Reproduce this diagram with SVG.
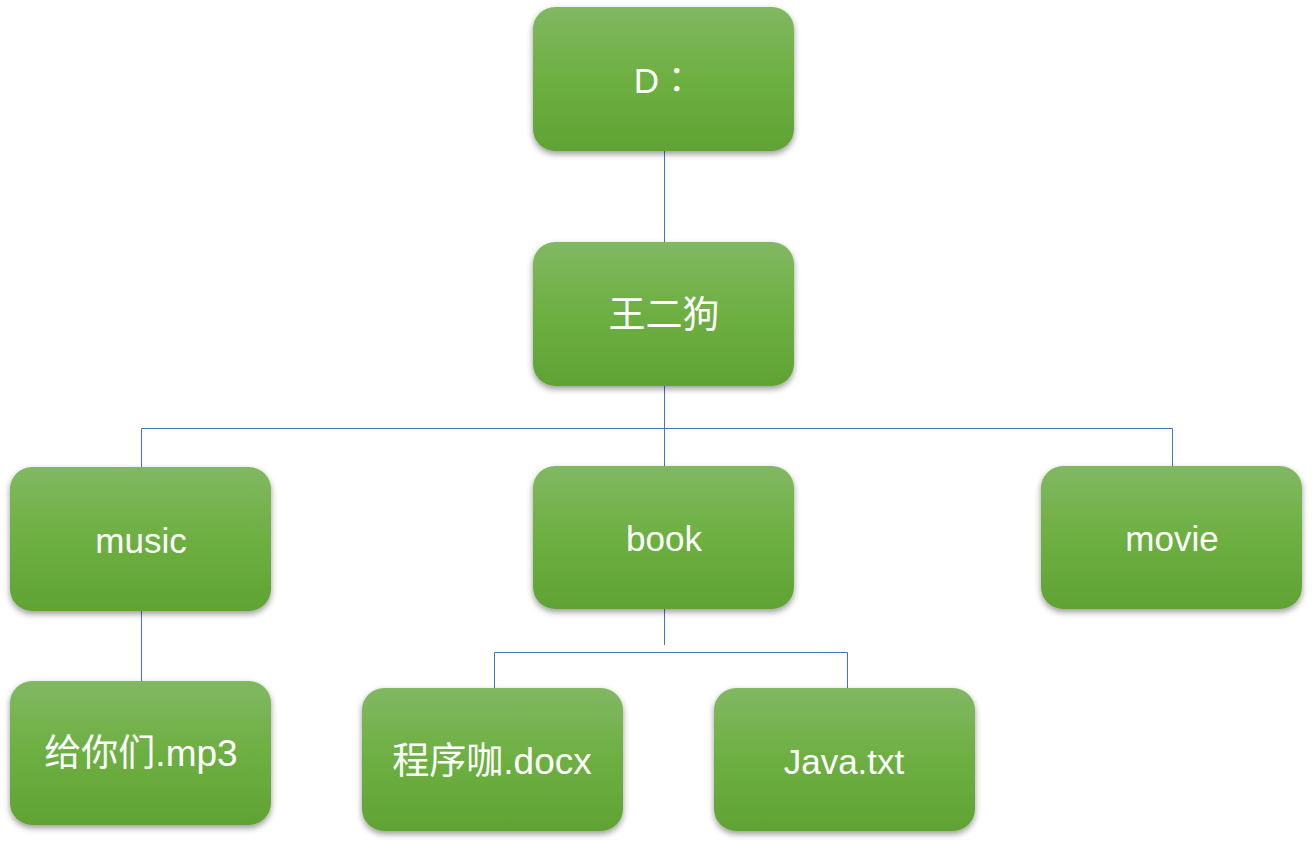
<svg xmlns="http://www.w3.org/2000/svg" width="1312" height="845" viewBox="0 0 1312 845">
<style>
.box{fill:url(#g);filter:url(#sh)}
.t{font-family:"Liberation Sans","Noto Sans CJK SC",sans-serif;font-size:35px;fill:#fff;text-anchor:middle;dominant-baseline:central}
.k{font-size:37px}
.c{stroke:#4472C4;stroke-width:1;fill:none}
</style>
<defs>
<linearGradient id="g" x1="0" y1="0" x2="0" y2="1">
<stop offset="0" stop-color="#81b862"/>
<stop offset="0.5" stop-color="#6daf41"/>
<stop offset="1" stop-color="#60a334"/>
</linearGradient>
<filter id="sh" x="-10%" y="-10%" width="120%" height="130%">
<feDropShadow dx="0" dy="3" stdDeviation="3" flood-color="#000" flood-opacity="0.4"/>
</filter>
</defs>
<g id="connectors">
<path class="c" d="M664.5 151V242"/>
<path class="c" d="M664.5 386V466"/>
<path class="c" d="M141.5 467V428.5H1172.5V466"/>
<path class="c" d="M141.5 611V681"/>
<path class="c" d="M664.5 609V645"/>
<path class="c" d="M494.5 688V652.5H847.5V688"/>
</g>
<g id="n-d"><rect class="box" x="533" y="7" width="261" height="144" rx="22"/><text class="t" x="664" y="80" style="font-family:'Liberation Sans','Noto Sans CJK TC',sans-serif">D：</text></g>
<g id="n-wang"><rect class="box" x="533" y="242" width="261" height="144" rx="22"/><text class="t k" x="664" y="315">王二狗</text></g>
<g id="n-music"><rect class="box" x="10" y="467" width="261" height="144" rx="22"/><text class="t" x="141" y="540">music</text></g>
<g id="n-book"><rect class="box" x="533" y="466" width="261" height="143" rx="22"/><text class="t" x="664" y="538">book</text></g>
<g id="n-movie"><rect class="box" x="1041" y="466" width="261" height="143" rx="22"/><text class="t" x="1172" y="538">movie</text></g>
<g id="n-mp3"><rect class="box" x="10" y="681" width="261" height="144" rx="22"/><text class="t k" x="141" y="753">给你们.mp3</text></g>
<g id="n-docx"><rect class="box" x="362" y="688" width="261" height="143" rx="22"/><text class="t k" x="492" y="761">程序咖.docx</text></g>
<g id="n-java"><rect class="box" x="714" y="688" width="261" height="143" rx="22"/><text class="t" x="844" y="761">Java.txt</text></g>
</svg>
